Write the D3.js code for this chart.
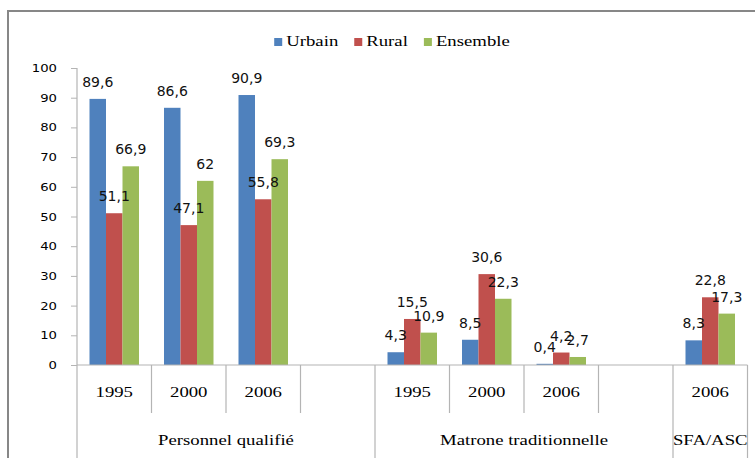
<!DOCTYPE html>
<html>
<head>
<meta charset="utf-8">
<script src="https://cdn.jsdelivr.net/npm/d3@7"></script>
<style>
  body { margin: 0; background: #fff; }
  svg { display: block; }
</style>
</head>
<body>
<div class="canvas"></div>
<script>
// data
const years = ['1995', '2000', '2006', '', '1995', '2000', '2006', '', '2006'];
const groups = ['Personnel qualifié', 'Matrone traditionnelle', 'SFA/ASC'];
const groupSpans = [4, 4, 1];
const seriesNames = ['Urbain', 'Rural', 'Ensemble'];
const urbain   = [89.6, 86.6, 90.9, null, 4.3, 8.5, 0.4, null, 8.3];
const rural    = [51.1, 47.1, 55.8, null, 15.5, 30.6, 4.2, null, 22.8];
const ensemble = [66.9, 62, 69.3, null, 10.9, 22.3, 2.7, null, 17.3];
const yTicks = [0, 10, 20, 30, 40, 50, 60, 70, 80, 90, 100];

const colors = { Urbain: '#4f81bd', Rural: '#c0504d', Ensemble: '#9bbb59' };
const seriesValues = { Urbain: urbain, Rural: rural, Ensemble: ensemble };
const gridColor = '#b4b4b4';
const serif = '"Liberation Serif", "Times New Roman", serif';
const sans = '"DejaVu Sans", Verdana, sans-serif';
const stretch = 1.25; // text in the reference is a bit wide

const svg = d3.select('.canvas')
  .append('svg')
    .attr('width', 755)
    .attr('height', 458);

// outer frame
svg.append('rect')
  .attr('x', 8).attr('y', 11)
  .attr('width', 800).attr('height', 500)
  .attr('fill', 'none')
  .attr('stroke', '#878787')
  .attr('stroke-width', 2);

// scales
const x0 = d3.scaleBand()
  .domain(d3.range(years.length))
  .range([77, 747.5]);
const x1 = d3.scaleBand()
  .domain(seriesNames)
  .range([12.5, 62]);
const y = d3.scaleLinear()
  .domain([0, 100])
  .range([365, 68]);

// wide serif text helper
const wideText = (g, x, yy, str, size, anchor) => g.append('text')
  .attr('transform', `translate(${x},${yy}) scale(${stretch},1)`)
  .attr('text-anchor', anchor)
  .attr('font-family', serif)
  .attr('font-size', size)
  .attr('fill', '#000')
  .text(str);

// y axis
const yAxis = d3.axisLeft(y)
  .tickValues(yTicks)
  .tickSize(6)
  .tickSizeOuter(0);
const yAxisGroup = svg.append('g')
  .attr('transform', 'translate(77,0)')
  .call(yAxis);
yAxisGroup.select('.domain').remove();
yAxisGroup.selectAll('.tick line').attr('stroke', gridColor);
yAxisGroup.selectAll('.tick text')
  .attr('x', -20 / 1.2)
  .attr('transform', 'scale(1.2,1)')
  .attr('font-family', sans)
  .attr('font-size', 11)
  .attr('fill', '#000');

// bars
const slots = svg.append('g');
seriesNames.forEach(name => {
  const vals = seriesValues[name];
  const idx = d3.range(vals.length).filter(i => vals[i] != null);
  slots.selectAll(`rect.${name}`)
    .data(idx)
    .enter()
    .append('rect')
      .attr('class', name)
      .attr('x', i => x0(i) + x1(name))
      .attr('width', x1.bandwidth())
      .attr('y', i => y(vals[i]))
      .attr('height', i => y(0) - y(vals[i]))
      .attr('fill', colors[name]);
});

// data labels
seriesNames.forEach(name => {
  const vals = seriesValues[name];
  const idx = d3.range(vals.length).filter(i => vals[i] != null);
  svg.append('g').selectAll('text')
    .data(idx)
    .enter()
    .append('text')
      .attr('x', i => x0(i) + x1(name) + x1.bandwidth() / 2)
      .attr('y', i => y(vals[i]) - 12)
      .attr('text-anchor', 'middle')
      .attr('font-family', sans)
      .attr('font-size', 14)
      .attr('fill', '#111')
      .text(i => String(vals[i]).replace('.', ','));
});

// x axis lines
const axisG = svg.append('g')
  .attr('stroke', gridColor)
  .attr('stroke-width', 1.2);
axisG.append('line')
  .attr('x1', x0.range()[0]).attr('x2', x0.range()[1])
  .attr('y1', y(0)).attr('y2', y(0));
axisG.append('line')
  .attr('x1', 77).attr('x2', 77)
  .attr('y1', y(100)).attr('y2', 458);

// group boundaries
const groupStarts = groupSpans.map((s, i) => d3.sum(groupSpans.slice(0, i)));
const boundaries = d3.range(1, years.length + 1);
axisG.selectAll('line.sep')
  .data(boundaries)
  .enter()
  .append('line')
    .attr('class', 'sep')
    .attr('x1', b => x0.range()[0] + b * x0.step())
    .attr('x2', b => x0.range()[0] + b * x0.step())
    .attr('y1', y(0))
    .attr('y2', b => (groupStarts.includes(b) || b === years.length) ? 458 : 413);

// year labels
years.forEach((yr, i) => {
  if (yr) wideText(svg, x0(i) + x0.bandwidth() / 2, 397, yr, 15, 'middle');
});

// group labels
groups.forEach((g, i) => {
  const start = groupStarts[i];
  const end = start + groupSpans[i] - 1;
  const cx = (x0(start) + x0(end) + x0.bandwidth()) / 2;
  wideText(svg, cx, 445, g, 15, 'middle');
});

// legend
const legend = svg.append('g');
let lx = 0;
const items = [];
seriesNames.forEach(name => {
  const item = legend.append('g').attr('transform', `translate(${lx},0)`);
  item.append('rect')
    .attr('x', 0).attr('y', -8)
    .attr('width', 8).attr('height', 8)
    .attr('fill', colors[name]);
  const t = wideText(item, 12, 0, name, 15, 'start');
  const w = t.node().getComputedTextLength() * stretch;
  lx += 12 + w + 16;
});
const legendWidth = lx - 16;
legend.attr('transform', `translate(${392 - legendWidth / 2},46)`);
</script>
</body>
</html>
